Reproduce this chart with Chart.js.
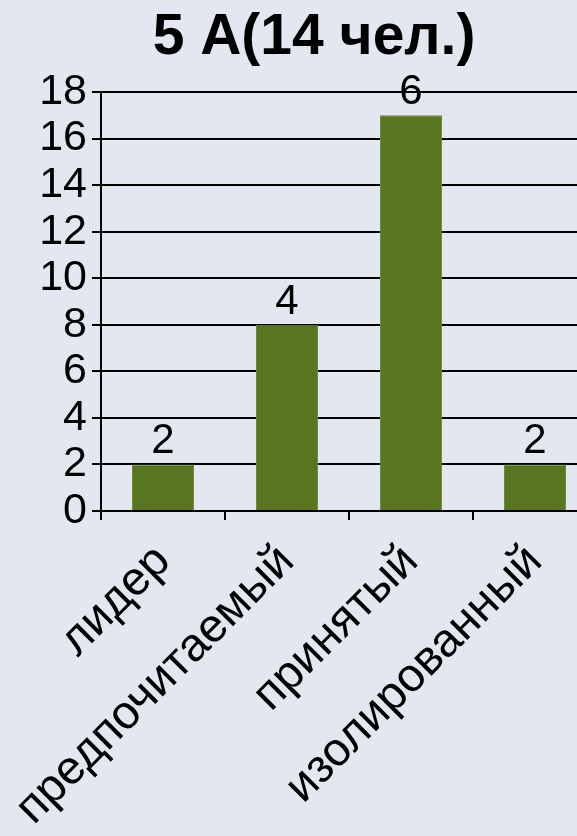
<!DOCTYPE html>
<html>
<head>
<meta charset="utf-8">
<script src="https://cdn.jsdelivr.net/npm/chart.js@4.4.1/dist/chart.umd.min.js"></script>
<style>
  html, body { margin: 0; padding: 0; background: #e3e8f0; overflow: hidden; }
  #wrap { width: 628px; height: 836px; position: relative; }
</style>
</head>
<body>
<div id="wrap"><canvas id="c" width="628" height="836"></canvas></div>
<script>
const titleText = '5 А(14 чел.)';
const categories = ['лидер', 'предпочитаемый', 'принятый', 'изолированный'];
const barValues = [2, 8, 17, 2];
const barLabels = ['2', '4', '6', '2'];
const yTicks = [0, 2, 4, 6, 8, 10, 12, 14, 16, 18];

const FONT = '"Liberation Sans", Arial, sans-serif';

const valueLabels = {
  id: 'valueLabels',
  afterDatasetsDraw(chart) {
    const ctx = chart.ctx;
    const meta = chart.getDatasetMeta(0);
    ctx.save();
    ctx.font = '42px ' + FONT;
    ctx.fillStyle = '#000';
    ctx.textAlign = 'center';
    ctx.textBaseline = 'alphabetic';
    meta.data.forEach((bar, i) => {
      ctx.fillText(barLabels[i], bar.x, bar.y - 11);
    });
    ctx.restore();
  }
};

new Chart(document.getElementById('c'), {
  type: 'bar',
  data: {
    labels: categories,
    datasets: [{
      data: barValues,
      backgroundColor: '#587620',
      borderColor: '#6f8a40',
      borderWidth: 1,
      barPercentage: 0.5,
      categoryPercentage: 1.0,
      yAxisID: 'y'
    }]
  },
  options: {
    responsive: false,
    animation: false,
    devicePixelRatio: 1,
    layout: { padding: 0 },
    plugins: {
      legend: { display: false },
      tooltip: { enabled: false },
      title: {
        display: true,
        text: titleText,
        color: '#000',
        font: { family: FONT, size: 57, weight: 'bold', lineHeight: 1.2 },
        padding: { top: 4, bottom: 19.6 }
      }
    },
    scales: {
      x: {
        offset: true,
        grid: { display: true, drawOnChartArea: false, drawTicks: true, tickLength: 9, color: '#000', lineWidth: 2, offset: true },
        border: { display: true, color: '#000', width: 2 },
        ticks: {
          color: '#000',
          font: { family: FONT, size: 47 },
          maxRotation: 45,
          minRotation: 45,
          padding: 14,
          autoSkip: false
        },
        afterFit(scale) { scale.height = 325; }
      },
      y: {
        min: 0,
        max: 18,
        afterBuildTicks(scale) { scale.ticks = yTicks.map(v => ({ value: v })); },
        grid: { display: true, drawOnChartArea: true, drawTicks: true, tickLength: 9, color: '#000', lineWidth: 2 },
        border: { display: true, color: '#000', width: 2 },
        ticks: {
          color: '#000',
          font: { family: FONT, size: 43 },
          padding: 5,
          autoSkip: false
        },
        afterFit(scale) { scale.width = 101; }
      },
      yRight: {
        position: 'right',
        min: 0,
        max: 18,
        grid: { display: false },
        border: { display: false },
        ticks: { display: false },
        afterFit(scale) { scale.width = 31; }
      }
    }
  },
  plugins: [valueLabels]
});
</script>
</body>
</html>
